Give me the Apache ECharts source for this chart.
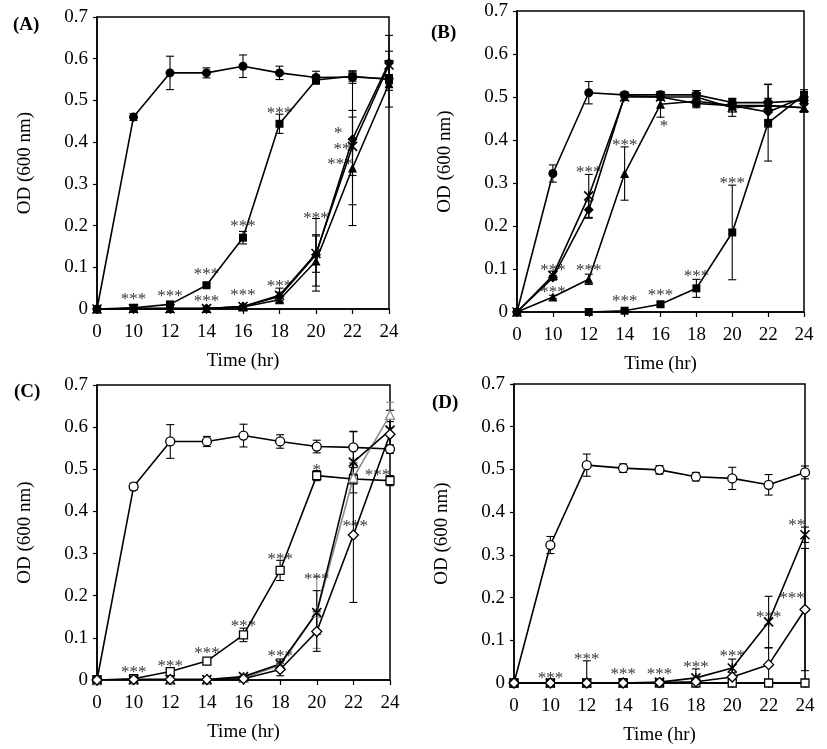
<!DOCTYPE html>
<html>
<head>
<meta charset="utf-8">
<script src="https://cdn.jsdelivr.net/npm/echarts@6/dist/echarts.min.js"></script>
<style>
html,body{margin:0;padding:0;background:#fff;}
#chart{width:827px;height:749px;}
</style>
</head>
<body>
<div id="chart"></div>
<script>
// ---------- data ----------
const xLabels = ['0','10','12','14','16','18','20','22','24'];
const yTicks = [0, 0.1, 0.2, 0.3, 0.4, 0.5, 0.6, 0.7];
const panelTitles = ['(A)', '(B)', '(C)', '(D)'];

// Panel A (filled markers)
const A_circle     = [0, 0.460, 0.566, 0.566, 0.582, 0.566, 0.555, 0.556, 0.552];
const A_circle_err = [0, 0.008, 0.040, 0.012, 0.027, 0.016, 0.015, 0.015, 0.010];
const A_square     = [0, 0.003, 0.011, 0.057, 0.171, 0.444, 0.549, 0.558, 0.550];
const A_square_err = [0, 0.002, 0.003, 0.004, 0.015, 0.023, 0.010, 0.012, 0.010];
const A_diamond    = [0, 0.001, 0.001, 0.001, 0.006, 0.030, 0.130, 0.407, 0.590];
const A_diamond_err= [0, 0, 0, 0, 0.002, 0.010, 0.087, 0.157, 0.066];
const A_triangle   = [0, 0.001, 0.001, 0.001, 0.005, 0.022, 0.115, 0.338, 0.540];
const A_triangle_err=[0, 0, 0, 0, 0.002, 0.008, 0.060, 0.138, 0.056];
const A_star       = [0, 0.001, 0.001, 0.001, 0.006, 0.033, 0.133, 0.390, 0.585];
const A_star_err   = [0, 0, 0, 0, 0.002, 0.017, 0.045, 0.070, 0.033];
const A_sigX    = [1, 2, 3, 3, 4, 4, 5, 5, 6, 6.61, 6.71, 6.66];
const A_sigY    = [0.035, 0.043, 0.094, 0.029, 0.209, 0.045, 0.480, 0.065, 0.229, 0.432, 0.395, 0.358];
const A_sigText = ['***','***','***','***','***','***','***','***','***','*','**','***'];

// Panel B (filled markers)
const B_circle     = [0, 0.322, 0.510, 0.505, 0.505, 0.505, 0.487, 0.487, 0.492];
const B_circle_err = [0, 0.020, 0.026, 0.007, 0.007, 0.010, 0.010, 0.010, 0.010];
const B_square     = [0, null, 0.000, 0.003, 0.018, 0.055, 0.185, 0.440, 0.505];
const B_square_err = [0, 0, 0.002, 0.003, 0.005, 0.021, 0.110, 0.089, 0.012];
const B_triangle   = [0, 0.035, 0.076, 0.322, 0.483, 0.490, 0.480, 0.480, 0.475];
const B_triangle_err=[0, 0.004, 0.012, 0.062, 0.030, 0.012, 0.010, 0.010, 0.010];
const B_diamond    = [0, 0.080, 0.238, 0.503, 0.500, 0.485, 0.480, 0.465, 0.500];
const B_diamond_err= [0, 0.005, 0.020, 0.005, 0.005, 0.010, 0.015, 0.020, 0.010];
const B_star       = [0, 0.085, 0.270, 0.500, 0.500, 0.500, 0.475, 0.480, 0.475];
const B_star_err   = [0, 0.010, 0.050, 0.008, 0.008, 0.015, 0.020, 0.050, 0.010];
const B_sigX    = [1, 1, 2, 2, 3, 4.1, 3, 4, 5, 6];
const B_sigY    = [0.108, 0.058, 0.337, 0.108, 0.399, 0.442, 0.035, 0.049, 0.093, 0.310];
const B_sigText = ['***','***','***','***','***','*','***','***','***','***'];

// Panel C (open markers)
const C_circle     = [0, 0.459, 0.566, 0.566, 0.580, 0.566, 0.554, 0.552, 0.548];
const C_circle_err = [0, 0.008, 0.040, 0.012, 0.027, 0.016, 0.015, 0.037, 0.010];
const C_square     = [0, 0.003, 0.020, 0.045, 0.107, 0.260, 0.485, 0.477, 0.473];
const C_square_err = [0, 0.002, 0.004, 0.004, 0.016, 0.024, 0.012, 0.012, 0.012];
const C_triangle   = [0, 0.001, 0.001, 0.001, 0.005, 0.035, 0.160, 0.480, 0.629];
const C_triangle_err=[0, 0, 0, 0, 0.002, 0.010, 0.085, 0.110, 0.030];
const C_star       = [0, 0.001, 0.001, 0.001, 0.008, 0.038, 0.160, 0.517, 0.593];
const C_star_err   = [0, 0, 0, 0, 0.002, 0.012, 0.052, 0.073, 0.047];
const C_diamond    = [0, 0.001, 0.001, 0.001, 0.003, 0.025, 0.115, 0.344, 0.583];
const C_diamond_err= [0, 0, 0, 0, 0.002, 0.015, 0.047, 0.160, 0.030];
const C_sigX    = [1, 2, 3, 4, 5, 5, 6, 6, 7.05, 7.66];
const C_sigY    = [0.030, 0.045, 0.074, 0.138, 0.297, 0.067, 0.509, 0.251, 0.376, 0.498];
const C_sigText = ['***','***','***','***','***','***','*','***','***','***'];

// Panel D (open markers)
const D_circle     = [0, 0.323, 0.510, 0.503, 0.499, 0.483, 0.479, 0.464, 0.493];
const D_circle_err = [0, 0.020, 0.026, 0.010, 0.010, 0.010, 0.026, 0.024, 0.015];
const D_square     = [0, 0, 0, 0, 0, 0, 0, 0, 0];
const D_square_err = [0, 0, 0.052, 0.010, 0, 0, 0, 0, 0];
const D_diamond    = [0, 0, 0, 0, 0.001, 0.003, 0.014, 0.043, 0.172];
const D_diamond_err= [0, 0, 0, 0, 0, 0.005, 0.010, 0.039, 0.143];
const D_star       = [0, 0, 0, 0, 0.002, 0.012, 0.035, 0.143, 0.347];
const D_star_err   = [0, 0, 0, 0, 0.002, 0.021, 0.021, 0.060, 0.018];
const D_sigX    = [1, 2, 3, 4, 5, 6, 7, 7.64, 7.77];
const D_sigY    = [0.023, 0.066, 0.031, 0.031, 0.049, 0.074, 0.166, 0.210, 0.380];
const D_sigText = ['***','***','***','***','***','***','***','***','**'];

// ---------- styling / layout ----------
const FONT = '"Liberation Serif", "Times New Roman", serif';
const STAR = 'path://M0,0L10,10M10,0L0,10M5,0L5,10';
const grids = [
  {left: 97,  top: 17,  width: 292, height: 292},
  {left: 517, top: 11,  width: 287, height: 301},
  {left: 97,  top: 385, width: 293, height: 295},
  {left: 514, top: 384, width: 291, height: 299}
];
const titlePos = [[13, 16], [431, 24], [14, 383], [432, 394]];

const panels = [
  {filled: true, sig: [A_sigX, A_sigY, A_sigText], lines: [
    {v: A_circle, e: A_circle_err, sym: 'circle'},
    {v: A_square, e: A_square_err, sym: 'rect'},
    {v: A_triangle, e: A_triangle_err, sym: 'triangle'},
    {v: A_star, e: A_star_err, sym: STAR},
    {v: A_diamond, e: A_diamond_err, sym: 'diamond'}]},
  {filled: true, sig: [B_sigX, B_sigY, B_sigText], lines: [
    {v: B_circle, e: B_circle_err, sym: 'circle'},
    {v: B_square, e: B_square_err, sym: 'rect'},
    {v: B_triangle, e: B_triangle_err, sym: 'triangle'},
    {v: B_star, e: B_star_err, sym: STAR},
    {v: B_diamond, e: B_diamond_err, sym: 'diamond'}]},
  {filled: false, sig: [C_sigX, C_sigY, C_sigText], lines: [
    {v: C_circle, e: C_circle_err, sym: 'circle'},
    {v: C_square, e: C_square_err, sym: 'rect'},
    {v: C_triangle, e: C_triangle_err, sym: 'triangle', gray: true},
    {v: C_star, e: C_star_err, sym: STAR},
    {v: C_diamond, e: C_diamond_err, sym: 'diamond'}]},
  {filled: false, sig: [D_sigX, D_sigY, D_sigText], lines: [
    {v: D_circle, e: D_circle_err, sym: 'circle'},
    {v: D_square, e: D_square_err, sym: 'rect'},
    {v: D_star, e: D_star_err, sym: STAR},
    {v: D_diamond, e: D_diamond_err, sym: 'diamond'}]}
];

const option = {
  animation: false,
  backgroundColor: '#fff',
  title: panelTitles.map((t, i) => ({
    text: t, left: titlePos[i][0], top: titlePos[i][1], padding: 0,
    textStyle: {fontFamily: FONT, fontWeight: 'bold', fontSize: 19, color: '#000'}
  })),
  grid: grids.map(g => Object.assign({show: true, borderColor: '#000', borderWidth: 1.5, backgroundColor: 'transparent'}, g)),
  xAxis: grids.map((g, i) => ({
    type: 'value', gridIndex: i, min: 0, max: 8, interval: 1,
    name: 'Time (hr)', nameLocation: 'middle', nameGap: 43,
    nameTextStyle: {fontFamily: FONT, fontSize: 19, color: '#000'},
    axisLine: {show: true, onZero: false, lineStyle: {color: '#000', width: 1.5}},
    axisTick: {show: true, inside: false, length: 5, lineStyle: {color: '#000', width: 1.2}},
    axisLabel: {fontFamily: FONT, fontSize: 19, color: '#000', margin: 14,
      formatter: v => xLabels[Math.round(v)]},
    splitLine: {show: false}
  })),
  yAxis: grids.map((g, i) => ({
    type: 'value', gridIndex: i, min: 0, max: 0.7, interval: 0.1,
    name: 'OD (600 nm)', nameLocation: 'middle', nameGap: 62, nameRotate: 90,
    nameTextStyle: {fontFamily: FONT, fontSize: 19, color: '#000'},
    axisLine: {show: true, onZero: false, lineStyle: {color: '#000', width: 1.5}},
    axisTick: {show: true, inside: false, length: 4, lineStyle: {color: '#000', width: 1.2}},
    axisLabel: {fontFamily: FONT, fontSize: 19, color: '#000', margin: 9,
      formatter: v => String(parseFloat(v.toFixed(1)))},
    splitLine: {show: false}
  })),
  series: []
};

function errSeries(i, vals, errs, color) {
  const data = vals.map((v, k) => [k, v, errs[k]]).filter(d => d[1] != null && d[2] > 0);
  return {
    type: 'custom', xAxisIndex: i, yAxisIndex: i, z: 3, silent: true, clip: false,
    data: data,
    renderItem: function (params, api) {
      const x = api.value(0), y = api.value(1), e = api.value(2);
      const hi = api.coord([x, y + e]);
      const loV = Math.max(0, y - e);
      const lo = api.coord([x, loV]);
      const w = 4;
      const st = {stroke: color, lineWidth: 1.1};
      const ch = [
        {type: 'line', shape: {x1: hi[0], y1: hi[1], x2: lo[0], y2: lo[1]}, style: st},
        {type: 'line', shape: {x1: hi[0] - w, y1: hi[1], x2: hi[0] + w, y2: hi[1]}, style: st}
      ];
      if (y - e > 0) ch.push({type: 'line', shape: {x1: lo[0] - w, y1: lo[1], x2: lo[0] + w, y2: lo[1]}, style: st});
      return {type: 'group', children: ch};
    }
  };
}

panels.forEach((p, i) => {
  p.lines.forEach(l => {
    const col = l.gray ? '#8c8c8c' : '#000';
    option.series.push(errSeries(i, l.v, l.e, col));
    const isStar = l.sym === STAR;
    option.series.push({
      type: 'line', xAxisIndex: i, yAxisIndex: i, z: 4,
      data: l.v.map((v, k) => [k, v]),
      symbol: l.sym, symbolSize: isStar ? 9 : (l.sym === 'rect' ? 8 : (l.sym === 'diamond' ? 10 : 9)),
      showAllSymbol: true, connectNulls: false,
      lineStyle: {color: col, width: 1.6},
      itemStyle: isStar
        ? {color: 'rgba(0,0,0,0)', borderColor: col, borderWidth: 1.6}
        : (p.filled ? {color: col, borderColor: col, borderWidth: 0}
                    : {color: '#fff', borderColor: col, borderWidth: 1.3}),
      emphasis: {disabled: true}
    });
  });
  const [sx, sy, st] = p.sig;
  option.series.push({
    type: 'scatter', xAxisIndex: i, yAxisIndex: i, z: 6, silent: true,
    symbol: 'circle', symbolSize: 0.1, itemStyle: {color: 'rgba(0,0,0,0)'},
    data: sx.map((x, k) => ({value: [x, sy[k]], name: st[k]})),
    label: {show: true, position: 'inside', formatter: '{b}', offset: [0, 5],
      fontFamily: FONT, fontSize: 17, color: '#000', textBorderWidth: 0, textBorderColor: 'transparent'}
  });
});

const chart = echarts.init(document.getElementById('chart'), null, {renderer: 'canvas'});
chart.setOption(option);
</script>
</body>
</html>
